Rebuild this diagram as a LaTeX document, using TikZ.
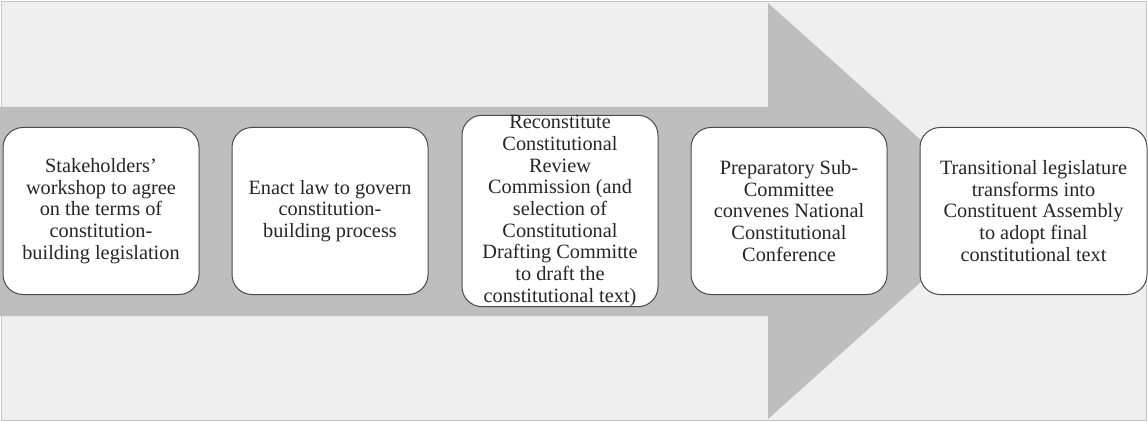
\documentclass[tikz,border=0pt]{standalone}
\usepackage{fontspec}
\setmainfont{Liberation Serif}
\usepackage{tikz}
\usetikzlibrary{positioning}
\definecolor{bggray}{HTML}{EFEFEF}
\definecolor{framegray}{HTML}{C6C6C6}
\definecolor{arrowgray}{HTML}{BEBEBE}
\definecolor{boxline}{HTML}{4A4A4A}
\begin{document}
\begin{tikzpicture}[x=1pt, y=-1pt,
				stage/.style={draw=boxline, fill=white, rectangle, rounded corners=20pt, line width=1pt, minimum width=196pt, minimum height=167pt, inner sep=0pt, text=black!85, font=\fontsize{20.3}{21.7}\selectfont},
				every text node part/.style={align=center}]
				\useasboundingbox (0,0) rectangle (1148,422);
				% background panel
				\fill[white] (0,0) rectangle (1148,422);
				\filldraw[fill=bggray, draw=framegray, line width=1.5pt] (1.5,1.5) rectangle (1146.5,420.5);
				% big process arrow
				\fill[arrowgray] (0,107) -- (768,107) -- (768,3) -- (1000,211) -- (768,419) -- (768,316) -- (0,316) -- cycle;
				
				\node[stage, align=center](node1) at (101, 211) {Stakeholders'\\workshop to agree\\on the terms of\\constitution-\\building legislation};
				
				\node[stage, align=center](node2) at (330, 211) {Enact law to govern\\constitution-\\building process};
				
				\node[stage, align=center, minimum height=191pt](node3) at (560, 211) {Reconstitute\\Constitutional\\Review\\Commission (and\\selection of\\Constitutional\\Drafting Committe\\to draft the\\constitutional text)};
				
				\node[stage, align=center](node4) at (789, 211) {Preparatory Sub-\\Committee\\convenes National\\Constitutional\\Conference};
				
				\node[stage, align=center, minimum width=227pt](node5) at (1033.5, 211) {Transitional legislature\\transforms into\\Constituent Assembly\\to adopt final\\constitutional text};
			\end{tikzpicture}
\end{document}
